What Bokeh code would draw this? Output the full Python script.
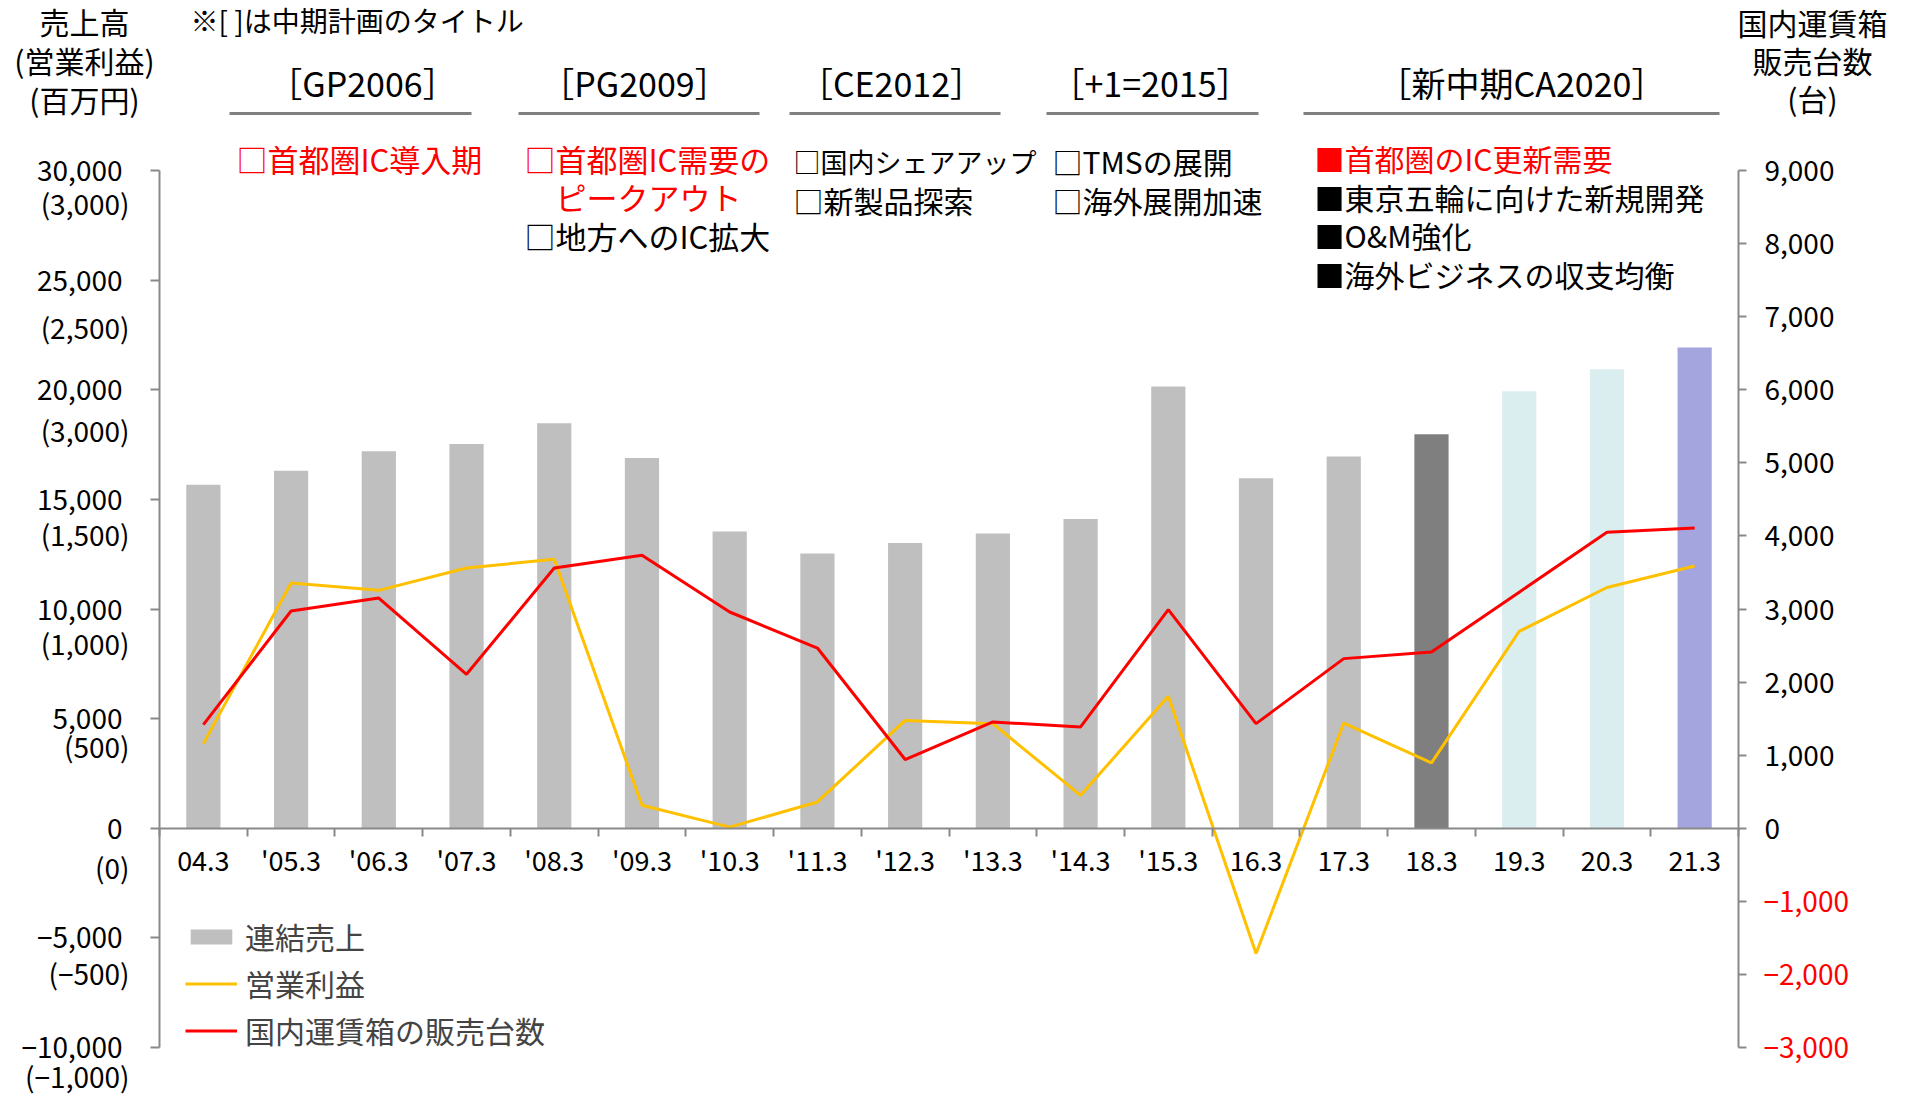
from bokeh.plotting import figure
from bokeh.models import (Range1d, LinearAxis, FixedTicker, Label, Legend, LegendItem, ColumnDataSource)
from bokeh.embed import file_html
from bokeh.resources import INLINE

FONT = "Noto Sans CJK JP"

# ---------------- data ----------------
periods = ["04.3", "'05.3", "'06.3", "'07.3", "'08.3", "'09.3", "'10.3", "'11.3", "'12.3",
           "'13.3", "'14.3", "'15.3", "16.3", "17.3", "18.3", "19.3", "20.3", "21.3"]
sales = [15670, 16310, 17190, 17520, 18470, 16890, 13540, 12530, 13010,
         13440, 14100, 20150, 15960, 16960, 17970, 19930, 20930, 21930]
operating_profit = [386, 1119, 1085, 1187, 1227, 105, 5, 120, 492,
                    477, 150, 602, -571, 480, 298, 898, 1098, 1196]
units_sold = [1418, 2973, 3150, 2107, 3561, 3735, 2959, 2466, 940,
              1454, 1386, 2992, 1432, 2321, 2412, 3230, 4049, 4108]

sales_ticks = [-10000, -5000, 0, 5000, 10000, 15000, 20000, 25000, 30000]
sales_tick_labels = ["−10,000", "−5,000", "0", "5,000", "10,000", "15,000", "20,000", "25,000", "30,000"]
profit_tick_labels = ["(−1,000)", "(−500)", "(0)", "(500)", "(1,000)", "(1,500)", "(3,000)", "(2,500)", "(3,000)"]
units_ticks = [-3000, -2000, -1000, 0, 1000, 2000, 3000, 4000, 5000, 6000, 7000, 8000, 9000]
units_tick_labels = ["−3,000", "−2,000", "−1,000", "0", "1,000", "2,000", "3,000", "4,000",
                     "5,000", "6,000", "7,000", "8,000", "9,000"]

plan_titles = ["［GP2006］", "［PG2009］", "［CE2012］", "［+1=2015］", "［新中期CA2020］"]
plan_notes = [
    [("□首都圏IC導入期", "red")],
    [("□首都圏IC需要の", "red"), ("　ピークアウト", "red"), ("□地方へのIC拡大", "black")],
    [("□国内シェアアップ", "black"), ("□新製品探索", "black")],
    [("□TMSの展開", "black"), ("□海外展開加速", "black")],
    [("■首都圏のIC更新需要", "red"), ("■東京五輪に向けた新規開発", "black"),
     ("■O&M強化", "black"), ("■海外ビジネスの収支均衡", "black")],
]
legend_labels = ["連結売上", "営業利益", "国内運賃箱の販売台数"]

# ---------------- styles / geometry ----------------
bar_colors = ["#BFBFBF"] * 14 + ["#7F7F7F", "#DAEEF0", "#DAEEF0", "#A4A4DE"]
AXIS_GRAY = "#898989"
TEXT_DY = -2.5          # visual centre of a label sits a little below its anchor

W, H = 1910, 1096       # the frame covers the whole canvas; page pixel == canvas pixel
FRAME_L, FRAME_R = 159, 1738                 # x of left and right value axes
Y_TOP_TICK, Y_BOTTOM_TICK = 170, 1047        # y of 30,000 and -10,000
ppu = (Y_BOTTOM_TICK - Y_TOP_TICK) / 40000.0
y_end = 30000 + Y_TOP_TICK / ppu
y_start = -10000 - (H - Y_BOTTOM_TICK) / ppu

n = len(periods)
slot = (FRAME_R - FRAME_L) / n
x_centers = [i + 0.5 for i in range(n)]      # category slot centres on a 0..n axis

p = figure(width=W, height=H,
           x_range=Range1d(-FRAME_L / slot, n + (W - FRAME_R) / slot),
           y_range=Range1d(y_start, y_end),
           output_backend="svg", toolbar_location=None,
           x_axis_location=None, y_axis_location=None,
           min_border_left=0, min_border_right=0, min_border_top=0, min_border_bottom=0)
p.outline_line_color = None
p.xgrid.visible = False
p.ygrid.visible = False
p.background_fill_color = "white"
p.border_fill_color = "white"

p.extra_y_ranges = {"units": Range1d(y_start * 0.3, y_end * 0.3),
                    "profit": Range1d(y_start / 10.0, y_end / 10.0),
                    "py": Range1d(H, 0)}
p.extra_x_ranges = {"px": Range1d(0, W)}

src = ColumnDataSource(dict(x=x_centers, period=periods, sales=sales, profit=operating_profit,
                            units=units_sold, color=bar_colors))

bars = p.vbar(x="x", top="sales", width=0.39, fill_color="color", line_color=None, source=src)
yline = p.line(x="x", y="profit", y_range_name="profit", line_color="#FFC000", line_width=3, source=src)
rline = p.line(x="x", y="units", y_range_name="units", line_color="#FF0000", line_width=3, source=src)

# ---------------- axes ----------------
axis_style = dict(axis_line_color=AXIS_GRAY, axis_line_width=2, major_tick_line_color=AXIS_GRAY,
                  major_tick_line_width=2, major_tick_in=0, minor_tick_line_color=None,
                  major_label_text_font=FONT, major_label_text_color="black")

yl = LinearAxis(fixed_location=0, ticker=FixedTicker(ticks=sales_ticks), bounds=(-10000, 30000),
                major_label_overrides={t: s for t, s in zip(sales_ticks, sales_tick_labels)},
                major_tick_out=9, major_label_standoff=28, major_label_text_font_size="28px", **axis_style)
p.add_layout(yl, "left")

yr = LinearAxis(fixed_location=n, y_range_name="units", ticker=FixedTicker(ticks=units_ticks),
                bounds=(-3000, 9000),
                major_label_overrides={t: (s if t >= 0 else "") for t, s in zip(units_ticks, units_tick_labels)},
                major_tick_out=8, major_label_standoff=18, major_label_text_font_size="28px", **axis_style)
p.add_layout(yr, "right")

# category labels under the zero line
xcat = LinearAxis(fixed_location=0, ticker=FixedTicker(ticks=x_centers), bounds=(0, n),
                  major_label_overrides={x: s for x, s in zip(x_centers, periods)},
                  axis_line_color=None, major_tick_line_color=None, minor_tick_line_color=None,
                  major_label_text_font=FONT, major_label_text_font_size="27px",
                  major_label_text_color="black", major_label_standoff=6)
p.add_layout(xcat, "below")

# zero line with tick marks between the categories
xedge = LinearAxis(fixed_location=0, ticker=FixedTicker(ticks=list(range(n + 1))), bounds=(0, n),
                   major_tick_out=8, major_label_text_color=None, major_label_text_font_size="1px",
                   **{k: v for k, v in axis_style.items() if k not in ("major_label_text_font", "major_label_text_color")})
p.add_layout(xedge, "below")


# ---------------- texts ----------------
def add_text(txt, x, y, size="30px", color="black", align="left", y_range="py", dy=TEXT_DY):
    p.add_layout(Label(x=x, y=y, x_range_name="px", y_range_name=y_range, text=txt,
                       text_font=FONT, text_font_size=size, text_color=color,
                       text_align=align, text_baseline="middle", y_offset=-dy))


# secondary (operating profit) labels on the left axis
paren_offsets = [31, 38, 41, 30, 36, 37, 43, 49, 35]
for t, s, off in zip(sales_ticks, profit_tick_labels, paren_offsets):
    ty = Y_TOP_TICK + (30000 - t) * ppu
    add_text(s, 129, ty + off, size="28px", align="right")

# negative unit labels in red on the right axis
for t, s in zip(units_ticks, units_tick_labels):
    if t < 0:
        add_text(s, 1763, t, size="28px", color="#FF0000", align="left", y_range="units", dy=0)

# corner titles
for txt, yy in zip(["売上高", "(営業利益)", "(百万円)"], [23, 62, 101]):
    add_text(txt, 84, yy, align="center")
for txt, yy in zip(["国内運賃箱", "販売台数", "(台)"], [24, 62, 100]):
    add_text(txt, 1812, yy, align="center")
add_text("※[ ]は中期計画のタイトル", 190, 22, size="28px")

# plan titles with underlines
title_cx = [362, 634, 891, 1150, 1521]
line_x0 = [229, 518, 789, 1046, 1303]
line_x1 = [471, 759, 1000, 1258, 1719]
for t, cx in zip(plan_titles, title_cx):
    add_text(t, cx, 84, size="34px", align="center")
p.segment(x0=line_x0, y0=[113] * 5, x1=line_x1, y1=[113] * 5, x_range_name="px", y_range_name="py",
          line_color="#7F7F7F", line_width=3)

note_x = [236, 524, 793, 1052, 1314]
note_y0 = [160, 160, 163, 163, 160]
note_sizes = [["31px"], ["31px", "31px", "31px"], ["27px", "30px"], ["30px", "30px"],
              ["30px", "30px", "30px", "30px"]]
note_step = 38.5
for notes, nx, ny, sizes in zip(plan_notes, note_x, note_y0, note_sizes):
    for i, ((txt, col), sz) in enumerate(zip(notes, sizes)):
        add_text(txt, nx, ny + i * note_step, size=sz, color=("#FF0000" if col == "red" else "black"))

# ---------------- legend ----------------
legend = Legend(items=[LegendItem(label=legend_labels[0], renderers=[bars], index=0),
                       LegendItem(label=legend_labels[1], renderers=[yline]),
                       LegendItem(label=legend_labels[2], renderers=[rline])],
                location=(185, H - 1052), orientation="vertical", padding=0, margin=0, spacing=3,
                glyph_width=52, glyph_height=19, label_height=36, label_standoff=8,
                label_text_font=FONT, label_text_font_size="30px", label_text_baseline="middle",
                border_line_color=None, background_fill_alpha=0)
p.add_layout(legend)

open("out.html", "w").write(file_html(p, INLINE))
